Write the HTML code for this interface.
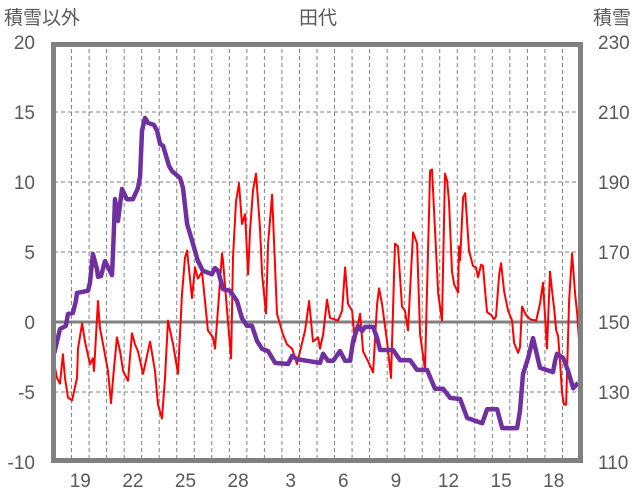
<!DOCTYPE html>
<html><head><meta charset="utf-8">
<style>
html,body{margin:0;padding:0;background:#fff;}
svg{display:block;font-family:"Liberation Sans","Noto Sans CJK JP",sans-serif;}
</style></head>
<body>
<svg id="chart" width="636" height="501" viewBox="0 0 636 501" xmlns="http://www.w3.org/2000/svg">
<text x="4" y="24" font-size="19" fill="#595959">積雪以外</text>
<text x="318" y="24" font-size="19" fill="#595959" text-anchor="middle">田代</text>
<text x="631" y="24" font-size="19" fill="#595959" text-anchor="end">積雪</text>
<g id="grid"></g>
<g id="series"></g>
<g id="axes"></g>
</svg>
<script>
const leftTicks = [20, 15, 10, 5, 0, -5, -10];
const rightTicks = [230, 210, 190, 170, 150, 130, 110];
const xLabels = ["19","22","25","28","3","6","9","12","15","18"];
const xLabelDays = [1,4,7,10,13,16,19,22,25,28];
const dayCount = 30;

const otherT = [0,0.17,0.34,0.51,0.63,0.80,1.03,1.31,1.37,1.60,1.77,2.05,2.22,2.28,2.51,2.62,2.80,3.08,3.25,3.37,3.59,3.77,3.94,4.22,4.45,4.62,4.79,5.08,5.48,5.76,5.93,6.16,6.33,6.50,6.79,7.07,7.30,7.47,7.59,7.87,8.04,8.21,8.44,8.61,8.78,9.07,9.18,9.36,9.58,9.64,9.93,10.10,10.21,10.38,10.55,10.72,10.90,11.07,11.18,11.35,11.52,11.75,11.87,12.09,12.21,12.44,12.72,13.06,13.29,13.58,13.86,14.32,14.55,14.77,15.06,15.17,15.35,15.57,15.74,16.20,16.43,16.60,16.77,17.00,17.17,17.46,17.63,17.91,18.20,18.43,18.54,18.71,19.00,19.22,19.45,19.62,19.85,20.02,20.19,20.48,20.71,20.88,21.16,21.45,21.56,21.91,22.13,22.30,22.42,22.53,22.70,22.82,23.05,23.10,23.16,23.33,23.45,23.67,23.90,24.07,24.19,24.36,24.47,24.59,24.70,24.93,25.10,25.21,25.39,25.50,25.67,25.90,26.13,26.24,26.47,26.58,26.70,26.92,27.15,27.50,27.72,27.89,27.95,28.12,28.29,28.41,28.52,28.64,28.75,28.86,28.98,29.09,29.21,29.38,29.55,29.72,29.84,29.95];
const otherV = [-2.9,-4.0,-4.4,-2.3,-4.0,-5.4,-5.6,-4.0,-1.9,-0.1,-1.4,-3.0,-2.6,-3.5,1.5,-0.4,-1.6,-3.5,-5.8,-4.0,-1.1,-2.1,-3.5,-4.2,-0.8,-1.6,-2.1,-3.7,-1.4,-3.5,-5.9,-6.9,-4.0,0.1,-1.6,-3.7,2.0,4.6,5.1,1.7,3.9,3.1,3.6,1.5,-0.6,-1.1,-1.9,1.0,4.9,4.4,-0.1,-2.6,4.6,8.6,9.9,7.0,7.7,3.4,6.5,9.4,10.6,6.7,3.4,0.6,5.6,9.1,0.6,-0.9,-1.6,-1.9,-3.0,-0.6,1.5,-1.4,-1.1,-1.9,-0.9,1.6,0.3,0.1,0.8,3.9,1.3,0.8,-1.4,0.6,-2.1,-2.8,-3.6,1.3,2.4,1.3,-1.4,-4.0,5.6,5.4,1.1,0.8,-0.6,6.4,5.6,-0.9,-3.4,10.8,10.9,2.0,0.1,10.6,10.1,8.6,3.6,2.7,2.1,5.4,4.4,8.9,9.2,5.1,4.0,3.9,3.2,4.1,4.0,2.2,0.7,0.5,0.2,0.4,3.4,4.2,2.2,0.8,0.1,-1.5,-2.2,-1.8,1.1,0.5,0.2,0.1,1.3,2.8,1.5,-1.9,3.6,2.2,1.0,-0.6,-1.0,-2.8,-5.1,-5.9,-5.9,1.5,4.9,2.0,0.6,-1.4];

const snowT = [0,0.11,0.34,0.68,0.80,1.08,1.25,1.31,1.94,2.05,2.17,2.22,2.45,2.51,2.68,2.91,3.19,3.31,3.37,3.48,3.65,3.88,4.16,4.50,4.79,4.91,5.02,5.19,5.36,5.70,5.88,6.05,6.22,6.56,6.73,7.19,7.36,7.59,7.93,8.21,8.50,9.01,9.18,9.36,9.47,9.64,10.04,10.44,10.72,11.01,11.29,11.58,11.87,12.21,12.61,13.35,13.58,13.86,14.43,15.17,15.35,15.63,15.92,16.31,16.60,16.89,17.06,17.34,17.57,17.74,18.20,18.43,18.60,19.34,19.74,20.31,20.71,21.28,21.73,22.19,22.59,23.16,23.56,24.42,24.70,25.27,25.56,26.41,26.58,26.75,27.04,27.32,27.72,28.46,28.58,28.69,29.04,29.32,29.61,29.89];
const snowV = [140.9,143.1,148.0,148.9,152.3,152.6,156.0,158.3,158.9,161.1,166.9,169.4,165.1,162.9,163.1,167.4,164.6,163.4,170.3,185.1,178.9,188.0,185.1,185.1,188.3,191.7,204.6,208.3,206.9,206.3,204.6,200.9,200.3,194.6,193.1,191.1,188.3,178.0,172.3,167.4,164.6,163.7,165.4,164.6,162.6,159.4,158.9,156.0,151.1,148.9,148.9,144.6,142.3,141.7,138.3,138.0,140.3,139.4,138.9,138.3,140.9,138.9,138.9,141.7,138.9,138.9,144.6,148.9,147.4,148.6,148.6,145.4,142.0,142.0,139.1,139.1,136.3,136.3,130.9,130.9,128.3,128.0,122.6,121.1,125.1,125.1,119.7,119.7,124.6,135.1,139.7,145.4,136.9,135.7,138.9,140.9,139.7,136.0,131.1,132.6];

const NS = "http://www.w3.org/2000/svg";
const PL = 54, PR = 580, PT = 42, PB = 462;
function xDay(t){ return PL + t * (PR - PL) / dayCount; }
function yLeft(v){ return PB - (v + 10) * (PB - PT) / 30; }
function yRight(v){ return PB - (v - 110) * (PB - PT) / 120; }
function mk(tag, attrs, parent){
  const e = document.createElementNS(NS, tag);
  for (const k in attrs) e.setAttribute(k, attrs[k]);
  parent.appendChild(e); return e;
}
const grid = document.getElementById('grid');
const series = document.getElementById('series');
const axes = document.getElementById('axes');

for (let i = 1; i < dayCount; i++) {
  const x = xDay(i);
  const l = mk('line', {x1:x, x2:x, y1:PT, y2:PB, stroke:'#808080', 'stroke-width':1, 'stroke-dasharray':'4,3'}, grid);
  
  
}
leftTicks.forEach(v => {
  if (v === 20 || v === -10 || v === 0) return;
  const y = yLeft(v);
  const l = mk('line', {x1:PL, x2:PR, y1:y, y2:y, stroke:'#808080', 'stroke-width':1, 'stroke-dasharray':'4,3'}, grid);
  
  
});
const z = mk('line', {x1:PL, x2:PR, y1:yLeft(0), y2:yLeft(0), stroke:'#808080', 'stroke-width':3}, grid);



const other = mk('polyline', {points: otherT.map((t,i)=>xDay(t).toFixed(1)+','+yLeft(otherV[i]).toFixed(1)).join(' '), fill:'none', stroke:'#ff0000', 'stroke-width':2, 'stroke-linejoin':'round'}, series);


const snow = mk('polyline', {points: snowT.map((t,i)=>xDay(t).toFixed(1)+','+yRight(snowV[i]).toFixed(1)).join(' '), fill:'none', stroke:'#7030a0', 'stroke-width':4.5, 'stroke-linejoin':'round'}, series);



const frame = mk('rect', {x:53.5, y:44.5, width:527, height:416, fill:'none', stroke:'#808080', 'stroke-width':5}, axes);



leftTicks.forEach(v => {
  const t = mk('text', {x:35, y:yLeft(v)+7, 'font-size':19, fill:'#595959', 'text-anchor':'end'}, axes);
  t.textContent = String(v);
  
  
});
rightTicks.forEach(v => {
  const t = mk('text', {x:598, y:yRight(v)+7, 'font-size':19, fill:'#595959'}, axes);
  t.textContent = String(v);
  
  
});
xLabels.forEach((lab, i) => {
  const t = mk('text', {x:xDay(xLabelDays[i] + 0.5), y:487, 'font-size':19, fill:'#595959', 'text-anchor':'middle'}, axes);
  t.textContent = lab;
  
  
});
</script>
</body></html>
